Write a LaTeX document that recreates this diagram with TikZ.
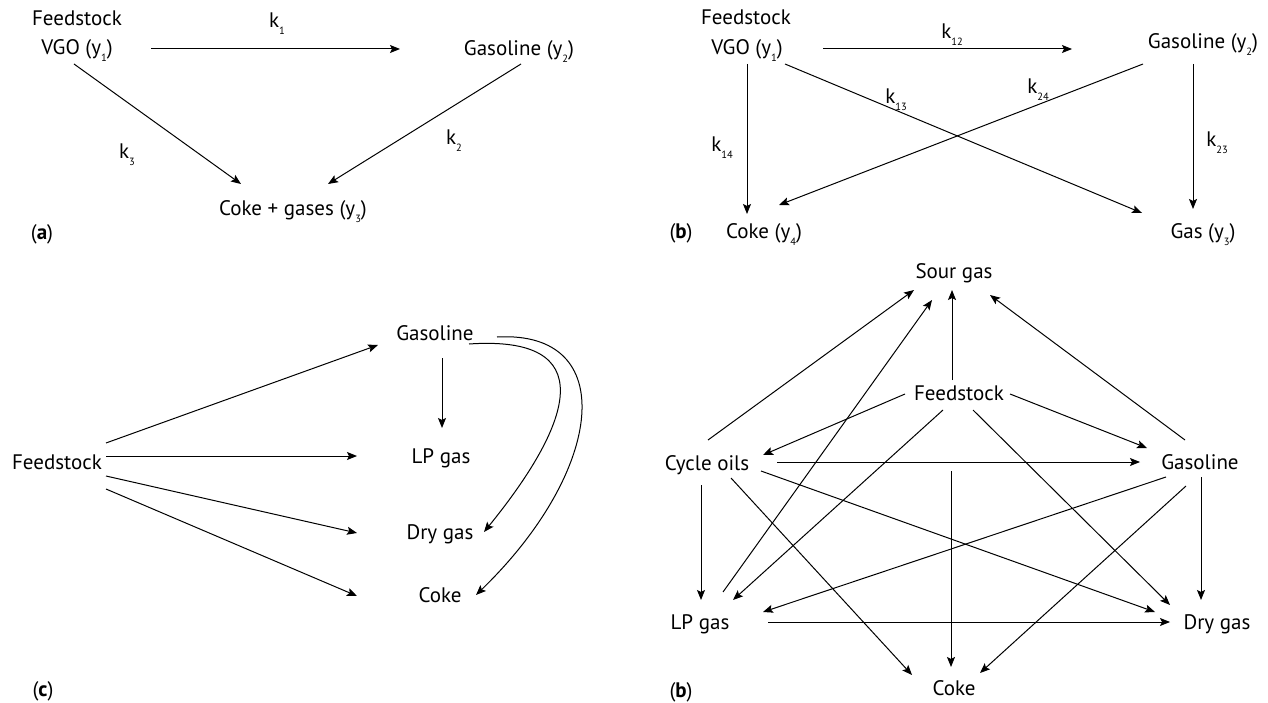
\documentclass[tikz,border=0pt]{standalone}
\usepackage{fontspec}
\setmainfont{PT Sans}
\usepackage{graphicx}
\usetikzlibrary{arrows.meta,calc}
\newcommand{\lsub}[1]{\raisebox{-0.3em}{\fontsize{10.5}{10.5}\selectfont #1}}
\begin{document}
\begin{tikzpicture}[x=1pt,y=-1pt,
  lbl/.style={anchor=base,inner sep=0pt,font=\fontsize{21}{25}\selectfont},
  arr/.style={-{Stealth[length=10pt,width=8pt,inset=2pt]},line width=1pt},
  ln/.style={line width=1pt}]
\useasboundingbox (0,0) rectangle (1268,703);
% ---------- panel (a)
\node[lbl] (fa1) at (77,26) {Feedstock};
\node[lbl] (fa2) at (77,55) {VGO (y\lsub{1})};
\node[lbl] (ga) at (519,56) {Gasoline (y\lsub{2})};
\node[lbl] (cg) at (293,216) {Coke + gases (y\lsub{3})};
\node[lbl] (k1) at (277,28) {k\lsub{1}};
\node[lbl] (k3) at (127,159) {k\lsub{3}};
\node[lbl] (k2) at (454,145) {k\lsub{2}};
\node[lbl] (pa) at (42,240) {(\textbf{a})};
\draw[arr] ($(fa2.base)+(74,-6)$) -- ($(ga.base)+(-119,-7)$);
\draw[arr] ($(fa2.base)+(-3,9)$) -- ($(cg.base)+(-52,-32)$);
\draw[arr] ($(ga.base)+(2,8)$) -- ($(cg.base)+(35,-32)$);
% ---------- panel (b) top
\node[lbl] (fb1) at (746,25) {Feedstock};
\node[lbl] (fb2) at (747,55) {VGO (y\lsub{1})};
\node[lbl] (gb) at (1203,49) {Gasoline (y\lsub{2})};
\node[lbl] (cb) at (764,239) {Coke (y\lsub{4})};
\node[lbl] (sb) at (1203,239) {Gas (y\lsub{3})};
\node[lbl] (k12) at (952,39) {k\lsub{12}};
\node[lbl] (k13) at (896,104) {k\lsub{13}};
\node[lbl] (k24) at (1038,94) {k\lsub{24}};
\node[lbl] (k14) at (722,152) {k\lsub{14}};
\node[lbl] (k23) at (1217,147) {k\lsub{23}};
\node[lbl] (pb) at (681,239) {(\textbf{b})};
\draw[arr] ($(fb2.base)+(76,-6)$) -- ($(gb.base)+(-131,0)$);
\draw[arr] ($(fb2.base)+(0,9)$) -- ($(cb.base)+(-17,-25)$);
\draw[arr] ($(fb2.base)+(38,9)$) -- ($(sb.base)+(-61,-26)$);
\draw[arr] ($(gb.base)+(-60,15)$) -- ($(cb.base)+(15,-34)$);
\draw[arr] ($(gb.base)+(-10,15)$) -- ($(sb.base)+(-10,-30)$);
% ---------- panel (c)
\node[lbl] (fc) at (57,469) {Feedstock};
\node[lbl] (gc) at (435,340) {Gasoline};
\node[lbl] (lc) at (441,463) {LP gas};
\node[lbl] (dc) at (440,539) {Dry gas};
\node[lbl] (cc) at (440,602) {Coke};
\node[lbl] (pc) at (43,696) {(\textbf{c})};
\draw[arr] ($(fc.base)+(49,-26)$) -- ($(gc.base)+(-57,5)$);
\draw[arr] ($(fc.base)+(49,-13)$) -- ($(lc.base)+(-84,-7)$);
\draw[arr] ($(fc.base)+(49,7)$) -- ($(dc.base)+(-83,-6)$);
\draw[arr] ($(fc.base)+(49,20)$) -- ($(cc.base)+(-83,-6)$);
\draw[arr] ($(gc.base)+(7,18)$) -- ($(lc.base)+(1,-35)$);
\draw[arr] ($(gc.base)+(34,4)$) .. controls ($(gc.base)+(165,-5)$) and ($(dc.base)+(135,-119)$) .. ($(dc.base)+(44,-7)$);
\draw[arr] ($(gc.base)+(62,-3)$) .. controls ($(gc.base)+(185,-10)$) and ($(cc.base)+(165,-132)$) .. ($(cc.base)+(36,-7)$);
% ---------- panel (b) bottom
\node[lbl] (sd) at (954,279) {Sour gas};
\node[lbl] (fd) at (959,400) {Feedstock};
\node[lbl] (co) at (707,470) {Cycle oils};
\node[lbl] (gd) at (1200,469) {Gasoline};
\node[lbl] (ld) at (700,629) {LP gas};
\node[lbl] (dd) at (1217,629) {Dry gas};
\node[lbl] (kd) at (954,695) {Coke};
\node[lbl] (pd) at (681,697) {(\textbf{b})};
\draw[arr] ($(co.base)+(1,-30)$) -- ($(sd.base)+(-40,11)$);
\draw[arr] ($(ld.base)+(23,-37)$) -- ($(sd.base)+(-22,21)$);
\draw[arr] ($(fd.base)+(-7,-20)$) -- ($(sd.base)+(-2,11)$);
\draw[arr] ($(gd.base)+(-15,-29)$) -- ($(sd.base)+(36,16)$);
\draw[arr] ($(fd.base)+(-54,-6)$) -- ($(co.base)+(56,-15)$);
\draw[arr] ($(fd.base)+(51,-6)$) -- ($(gd.base)+(-53,-21)$);
\draw[arr] ($(fd.base)+(-16,10)$) -- ($(ld.base)+(33,-29)$);
\draw[arr] ($(fd.base)+(14,10)$) -- ($(dd.base)+(-47,-24)$);
\draw[arr] ($(co.base)+(70,-8)$) -- ($(gd.base)+(-60,-7)$);
\draw[arr] ($(co.base)+(-6,15)$) -- ($(ld.base)+(1,-29)$);
\draw[arr] ($(co.base)+(24,8)$) -- ($(kd.base)+(-42,-20)$);
\draw[arr] ($(co.base)+(54,1)$) -- ($(dd.base)+(-62,-17)$);
\draw[arr] ($(fd.base)+(-8,71)$) -- ($(kd.base)+(-3,-28)$);
\draw[arr] ($(gd.base)+(-34,8)$) -- ($(ld.base)+(63,-17)$);
\draw[arr] ($(gd.base)+(1,8)$) -- ($(dd.base)+(-16,-29)$);
\draw[arr] ($(gd.base)+(-14,17)$) -- ($(kd.base)+(26,-22)$);
\draw[arr] ($(ld.base)+(68,-7)$) -- ($(dd.base)+(-47,-7)$);
\end{tikzpicture}
\end{document}
